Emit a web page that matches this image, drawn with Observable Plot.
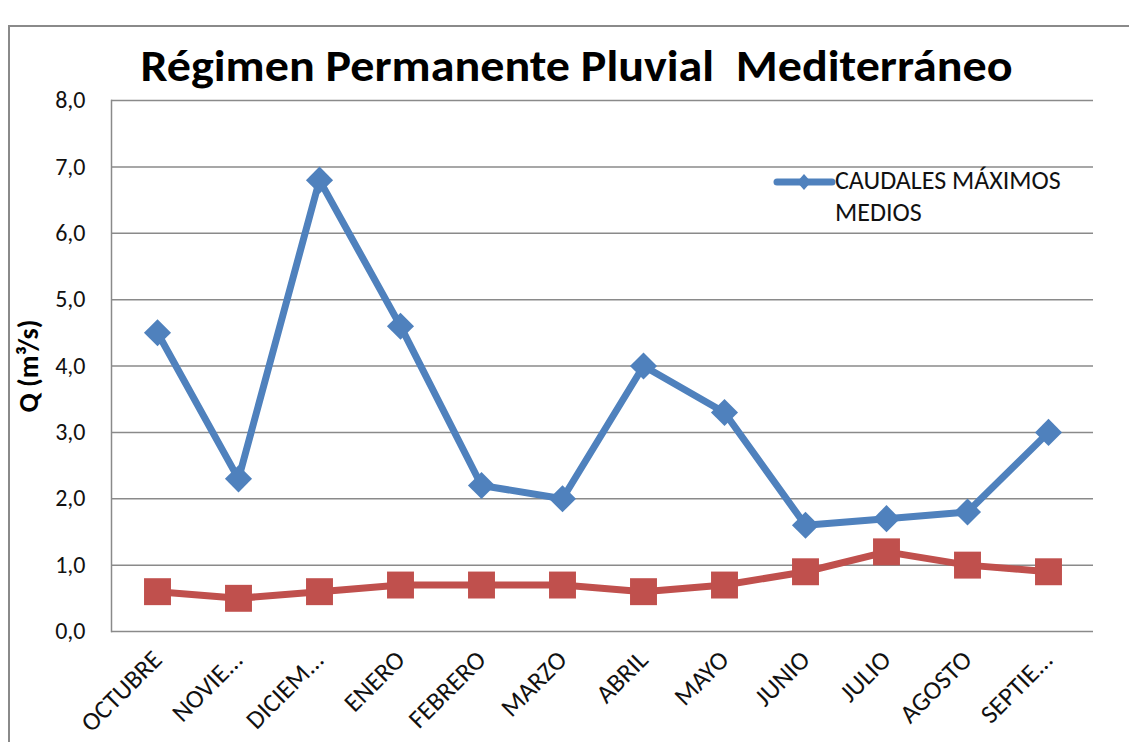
<!DOCTYPE html>
<html>
<head>
<meta charset="utf-8">
<script src="https://cdn.jsdelivr.net/npm/d3@7"></script>
<script src="https://cdn.jsdelivr.net/npm/@observablehq/plot@0.6"></script>
<style>
  html, body { margin: 0; padding: 0; background: #fff; }
  #wrap { position: relative; width: 1129px; height: 742px; overflow: hidden; font-family: Carlito, "Open Sans", sans-serif; }
  #border { position: absolute; left: 8px; top: 25px; width: 1200px; height: 800px; border-left: 2px solid #8a8a8a; border-top: 2px solid #8a8a8a; }
  #legend { position: absolute; left: 772px; top: 164px; font-size: 26px; color: #111; line-height: 32px; }
  #legend svg { position: absolute; left: 0; top: 2px; }
  #legend .t { position: absolute; left: 63px; top: 0; white-space: nowrap; }
</style>
</head>
<body>
<div id="wrap">
  <div id="border"></div>
  <div id="chart"></div>
  <div id="legend">
    <svg width="64" height="32"><line x1="5" y1="16" x2="60" y2="16" stroke="#4F81BD" stroke-width="7" stroke-linecap="round"/><path d="M32,8 L39,16 L32,24 L25,16Z" fill="#4F81BD"/></svg>
    <div class="t">CAUDALES MÁXIMOS<br>MEDIOS</div>
  </div>
</div>
<script>
const months = ["OCTUBRE","NOVIE...","DICIEM...","ENERO","FEBRERO","MARZO","ABRIL","MAYO","JUNIO","JULIO","AGOSTO","SEPTIE..."];
const maxMedios = [4.5, 2.3, 6.8, 4.6, 2.2, 2.0, 4.0, 3.3, 1.6, 1.7, 1.8, 3.0];
const medios = [0.6, 0.5, 0.6, 0.7, 0.7, 0.7, 0.6, 0.7, 0.9, 1.2, 1.0, 0.9];
const yTicks = [0, 1, 2, 3, 4, 5, 6, 7, 8];
const title = "Régimen Permanente Pluvial  Mediterráneo";
const yLabel = "Q (m³/s)";

const blue = months.map((m, i) => ({month: m, q: maxMedios[i]}));
const red = months.map((m, i) => ({month: m, q: medios[i]}));
const fmt = d => d3.format(".1f")(d).replace(".", ",");

const chart = Plot.plot({
  width: 1129,
  height: 742,
  marginLeft: 111,
  marginRight: 36,
  marginTop: 100,
  marginBottom: 111,
  style: {fontFamily: 'Carlito, "Open Sans", sans-serif', fontSize: "24px", color: "#111", background: "transparent", overflow: "visible"},
  x: {type: "point", domain: months, padding: 0.5, label: null},
  y: {domain: [0, 8], label: null},
  marks: [
    Plot.gridY(yTicks, {stroke: "#8a8a8a", strokeOpacity: 1, strokeWidth: 1.5}),
    Plot.frame({anchor: "left", stroke: "#8a8a8a", strokeWidth: 1.5}),
    Plot.axisY(yTicks, {tickSize: 0, tickPadding: 26, tickFormat: fmt, fontSize: 24}),
    Plot.axisX({tickSize: 0, tickPadding: 24, tickRotate: -45, fontSize: 26, textAnchor: "end"}),
    Plot.line(red, {x: "month", y: "q", stroke: "#C0504D", strokeWidth: 7}),
    Plot.dot(red, {x: "month", y: "q", symbol: "square", r: 15.2, fill: "#C0504D", style: {filter: "drop-shadow(0px 3px 2px rgba(0,0,0,0.25))"}}),
    Plot.line(blue, {x: "month", y: "q", stroke: "#4F81BD", strokeWidth: 7}),
    Plot.dot(blue, {x: "month", y: "q", symbol: "diamond2", r: 12.2, fill: "#4F81BD", style: {filter: "drop-shadow(0px 3px 2px rgba(0,0,0,0.25))"}}),
    Plot.text([title], {frameAnchor: "top", text: d => d, dy: -51, dx: -26, fontSize: 44, fontWeight: "bold", fill: "#000", className: "ttl"}),
    Plot.text([yLabel], {frameAnchor: "left", text: d => d, rotate: -90, dx: -82, textAnchor: "middle", fontSize: 28, fontWeight: "bold", fill: "#000"})
  ]
});
document.getElementById("chart").appendChild(chart);
const t = chart.querySelector(".ttl text");
if (t) { t.setAttribute("textLength", 872); t.setAttribute("lengthAdjust", "spacingAndGlyphs"); }
</script>
</body>
</html>
